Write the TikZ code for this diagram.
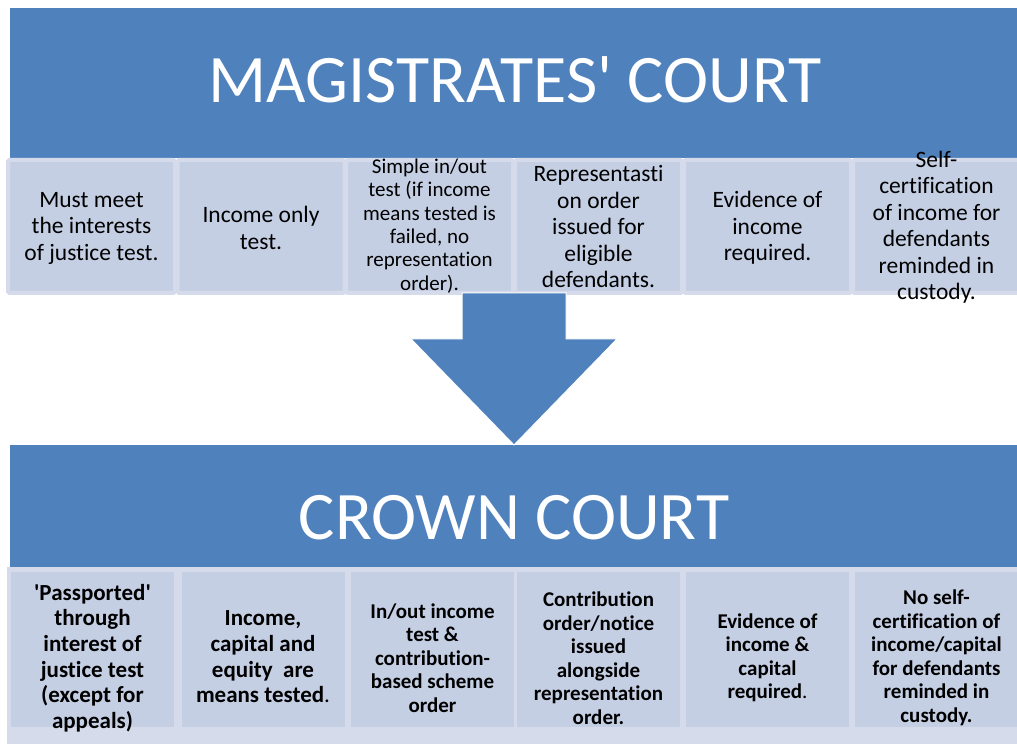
\documentclass[tikz,border=0pt]{standalone}
\usepackage{fontspec}
\setmainfont{Carlito}[Ligatures={NoCommon}]
\definecolor{bandblue}{HTML}{4F81BD}
\definecolor{boxin}{HTML}{C5CFE4}
\definecolor{boxout}{HTML}{D5DBEB}
\begin{document}
\begin{tikzpicture}[x=1pt,y=1pt,
  bandbox/.style={rectangle, fill=bandblue, draw=none, inner sep=0pt},
  titletext/.style={text=white, font=\fontsize{68}{80}\selectfont, inner sep=0pt, anchor=base},
  topbox/.style={rectangle, fill=boxin, draw=boxout, line width=4pt, minimum width=167pt, minimum height=133pt, inner sep=0pt, rounded corners=1.5pt},
  lowout/.style={rectangle, fill=boxout, draw=none, minimum width=171pt, minimum height=183pt, inner sep=0pt},
  lowin/.style={rectangle, fill=boxin, draw=none, minimum width=163pt, minimum height=155pt, inner sep=0pt},
  toptext/.style={align=center, text=black, inner sep=0pt, font=\fontsize{23.5}{26.5}\selectfont},
  toptextsmall/.style={align=center, text=black, inner sep=0pt, font=\fontsize{21}{23.3}\selectfont},
  lowtextbig/.style={align=center, text=black, inner sep=0pt, font=\bfseries\fontsize{23}{25.7}\selectfont},
  lowtext/.style={align=center, text=black, inner sep=0pt, font=\bfseries\fontsize{21}{23.5}\selectfont},
  arrowshape/.style={fill=bandblue, draw=white, line width=1pt}
]
\useasboundingbox (0,0) rectangle (1017,744);
\fill[white] (0,0) rectangle (1017,744);

% top band
\node[bandbox, minimum width=1007pt, minimum height=150pt] (magband) at (513.5,661) {};
\node[titletext] (magtitle) at (515,641) {MAGISTRATES\textquotesingle{} COURT};

% top boxes
\node[topbox] (t1) at (91.5,517.5) {};
\node[topbox] (t2) at (261,517.5) {};
\node[topbox] (t3) at (429.5,517.5) {};
\node[topbox] (t4) at (598.5,517.5) {};
\node[topbox] (t5) at (767.5,517.5) {};
\node[topbox] (t6) at (936.5,517.5) {};

\node[toptext] (tt1) at (91.5,516) {Must meet\\the interests\\of justice test.};
\node[toptext] (tt2) at (261,516) {Income only\\test.};
\node[toptextsmall] (tt3) at (429.5,518) {Simple in/out\\test (if income\\means tested is\\failed, no\\representation\\order).};
\node[toptext] (tt4) at (598.5,517) {Representasti\\on order\\issued for\\eligible\\defendants.};
\node[toptext] (tt5) at (767.5,516) {Evidence of\\income\\required.};
\node[toptext] (tt6) at (936.5,517) {Self-\\certification\\of income for\\defendants\\reminded in\\custody.};

% bottom band
\node[bandbox, minimum width=1007pt, minimum height=122pt] (crownband) at (513.5,238) {};

% arrow
\fill[arrowshape] (462,451) -- (566,451) -- (566,405) -- (617,405) -- (514,299) -- (411,405) -- (462,405) -- cycle;

\node[titletext] (crowntitle) at (514,204) {CROWN COURT};

% bottom boxes
\foreach \cx/\nm in {92.5/b1, 263/b2, 432.5/b3, 598.5/b4, 767.5/b5, 936.5/b6} {
  \node[lowout] (\nm o) at (\cx,85.5) {};
}
\foreach \cx/\nm in {92.5/b1, 263/b2, 432.5/b3, 598.5/b4, 767.5/b5, 936.5/b6} {
  \node[lowin] (\nm i) at (\cx,94.5) {};
}

\node[lowtextbig] (bt1) at (92.5,86) {\textquotesingle Passported\textquotesingle\\through\\interest of\\justice test\\(except for\\appeals)};
\node[lowtextbig] (bt2) at (263,87) {Income,\\capital and\\equity~ are\\means tested\mdseries.};
\node[lowtext] (bt3) at (432.5,86) {In/out income\\test \&\\contribution-\\based scheme\\order};
\node[lowtext] (bt4) at (598.5,86) {Contribution\\order/notice\\issued\\alongside\\representation\\order.};
\node[lowtext] (bt5) at (767.5,86) {Evidence of\\income \&\\capital\\required\mdseries.};
\node[lowtext] (bt6) at (936.5,86) {No self-\\certification of\\income/capital\\for defendants\\reminded in\\custody.};
\end{tikzpicture}
\end{document}
